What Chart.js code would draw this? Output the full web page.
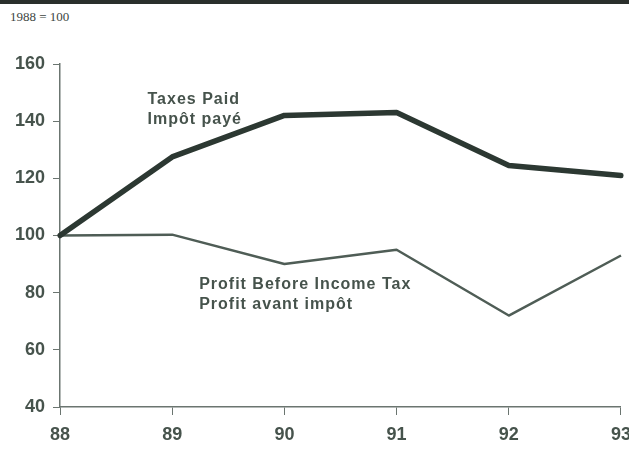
<!DOCTYPE html>
<html>
<head>
<meta charset="utf-8">
<script src="https://cdn.jsdelivr.net/npm/chart.js@4.4.1/dist/chart.umd.min.js"></script>
<style>
  html, body { margin: 0; padding: 0; background: #fff; overflow: hidden; }
  #wrap { position: relative; width: 629px; height: 455px; overflow: hidden; }
  #bar { position: absolute; left: 0; top: 0; width: 629px; height: 4px; background: #2a2f2c; }
  #base { position: absolute; left: 10px; top: 9px; font: 13px "Liberation Serif", serif; color: #3d4541; }
  canvas { position: absolute; left: 0; top: 0; }
</style>
</head>
<body>
<div id="wrap">
  <div id="bar"></div>
  <div id="base">1988 = 100</div>
  <canvas id="chart" width="640" height="455"></canvas>
</div>
<script>
const years = ["88", "89", "90", "91", "92", "93"];
const taxesPaid = [100, 127.5, 142, 143, 124.5, 121];
const profitBeforeTax = [100, 100.3, 90, 95, 72, 93];
const yTicks = [40, 60, 80, 100, 120, 140, 160];

// series captions, anchored in data units (x = year index, y = index value)
const captions = [
  { lines: ["Taxes Paid", "Impôt payé"], x: 0.78, y: 147.6 },
  { lines: ["Profit Before Income Tax", "Profit avant impôt"], x: 1.24, y: 82.9 }
];

const ink = "#46534c";
const axisColor = "#6b7570";
const sans = "'Liberation Sans', Arial, sans-serif";

const captionPlugin = {
  id: "captions",
  afterDatasetsDraw(chart) {
    const ctx = chart.ctx;
    const xs = chart.scales.x;
    const ys = chart.scales.y;
    ctx.save();
    ctx.fillStyle = ink;
    ctx.font = "bold 16px " + sans;
    ctx.letterSpacing = "1px";
    ctx.textAlign = "left";
    ctx.textBaseline = "middle";
    captions.forEach(c => {
      const px = xs.getPixelForValue(c.x);
      const py = ys.getPixelForValue(c.y);
      c.lines.forEach((t, i) => ctx.fillText(t, px, py + i * 20));
    });
    ctx.restore();
  }
};

new Chart(document.getElementById("chart"), {
  type: "line",
  data: {
    labels: years,
    datasets: [
      {
        label: "Taxes Paid",
        data: taxesPaid,
        borderColor: "#2c3832",
        borderWidth: 5.5,
        pointRadius: 0,
        borderJoinStyle: "round",
        borderCapStyle: "round",
        tension: 0
      },
      {
        label: "Profit Before Income Tax",
        data: profitBeforeTax,
        borderColor: "#4f5d56",
        borderWidth: 2.5,
        pointRadius: 0,
        borderJoinStyle: "round",
        tension: 0
      }
    ]
  },
  options: {
    responsive: false,
    animation: false,
    layout: { padding: { top: 64, left: 0, right: 0, bottom: 0 } },
    plugins: {
      legend: { display: false },
      tooltip: { enabled: false }
    },
    scales: {
      x: {
        offset: false,
        afterFit(scale) { scale.height = 48; },
        grid: { drawOnChartArea: false, drawTicks: true, tickLength: 8, color: axisColor },
        border: { display: true, color: axisColor, width: 1.5 },
        ticks: {
          color: ink,
          padding: 9,
          maxRotation: 0,
          font: { family: sans, size: 18, weight: "bold" }
        }
      },
      y: {
        min: 40,
        max: 160,
        afterBuildTicks(scale) {
          scale.ticks = yTicks.map(v => ({ value: v }));
        },
        afterFit(scale) { scale.width = 60; },
        grid: { drawOnChartArea: false, drawTicks: true, tickLength: 7, color: axisColor },
        border: { display: true, color: axisColor, width: 1.5 },
        ticks: {
          color: ink,
          padding: 8,
          font: { family: sans, size: 18, weight: "bold" }
        }
      }
    }
  },
  plugins: [captionPlugin]
});
</script>
</body>
</html>
